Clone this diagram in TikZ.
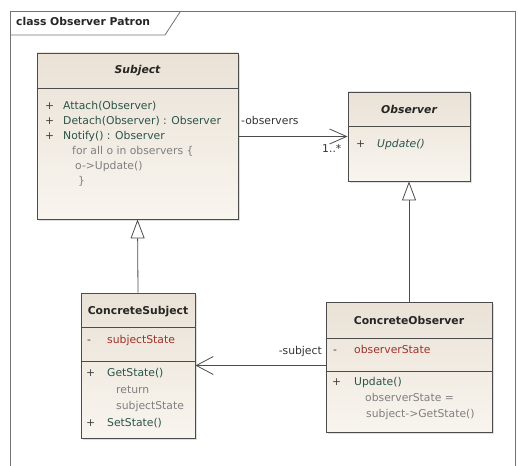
\documentclass[tikz,border=0pt]{standalone}
\usepackage{fontspec}
\setmainfont{DejaVu Sans}
\usetikzlibrary{arrows.meta,shadows}
\definecolor{gris}{rgb}{0.45,0.45,0.45}
\definecolor{cadre}{rgb}{0.3,0.3,0.3}
\definecolor{beige1}{rgb}{0.915,0.885,0.84}
\definecolor{beige2}{rgb}{0.975,0.96,0.935}
\definecolor{cmeth}{rgb}{0.17,0.33,0.29}
\definecolor{cattr}{rgb}{0.62,0.2,0.16}
\definecolor{cnote}{rgb}{0.5,0.5,0.5}

\begin{document}
\begin{tikzpicture}[x=1pt, y=-1pt, font=\fontsize{10.8}{12}\selectfont]
	\tikzstyle{classbox}=[rectangle, draw=cadre, line width=0.9pt, top color=beige1, bottom color=beige2, drop shadow={shadow xshift=2pt, shadow yshift=-2pt, opacity=0.25}, inner sep=0pt]
	\tikzstyle{divider}=[draw=cadre, line width=0.8pt]
	\tikzstyle{member}=[anchor=mid west, inner sep=0pt, text=cmeth]
	\tikzstyle{attr}=[anchor=mid west, inner sep=0pt, text=cattr]
	\tikzstyle{note}=[anchor=mid west, inner sep=0pt, text=cnote]
	\tikzstyle{vis}=[anchor=mid west, inner sep=0pt, text=black!75]
	\tikzstyle{role}=[inner sep=0pt, text=black!80]
	\tikzstyle{titre}=[inner sep=0pt, font=\fontsize{10.8}{12}\selectfont\bfseries, text=black!85]
	\useasboundingbox (0,0) rectangle (518,465);

	% CADRE
	\begin{scope}
		\clip (0,0) rectangle (518,465);
		\draw[gris, line width=1pt] (10,470) -- (10,12) -- (515,12) -- (515,470);
		\draw[gris, line width=0.8pt] (10,35) -- (165,35) -- (180,12);
	\end{scope}
	\node[titre, anchor=mid west] (titrecadre) at (16,23) {class Observer Patron};

	% CLASSES
	\node[classbox, minimum width=201pt, minimum height=166pt] (subject) at (137.5,136) {};
	\node[classbox, minimum width=122pt, minimum height=89pt] (observer) at (409,136.5) {};
	\node[classbox, minimum width=114pt, minimum height=145pt] (csubject) at (138,365.5) {};
	\node[classbox, minimum width=166pt, minimum height=130pt] (cobserver) at (409,367) {};

	\draw[divider] (subject.west |- 0,88) -- (subject.east |- 0,88);
	\draw[divider] (observer.west |- 0,126) -- (observer.east |- 0,126);
	\draw[divider] (csubject.west |- 0,327) -- (csubject.east |- 0,327);
	\draw[divider] (csubject.west |- 0,361) -- (csubject.east |- 0,361);
	\draw[divider] (cobserver.west |- 0,338) -- (cobserver.east |- 0,338);
	\draw[divider] (cobserver.west |- 0,371) -- (cobserver.east |- 0,371);

	% Subject
	\node[titre, font=\fontsize{10.8}{12}\selectfont\bfseries\itshape] (subjectT) at (137.5,71) {Subject};
	\node[vis] (sv1) at (45,107) {+};
	\node[vis] (sv2) at (45,122) {+};
	\node[vis] (sv3) at (45,137) {+};
	\node[member] (sm1) at (63,107) {Attach(Observer)};
	\node[member] (sm2) at (63,122) {Detach(Observer) : Observer};
	\node[member] (sm3) at (63,137) {Notify() : Observer};
	\node[note] (sn1) at (72,152) {for all o in observers \{};
	\node[note] (sn2) at (75,167) {o->Update()};
	\node[note] (sn3) at (78,182) {\}};

	% Observer
	\node[titre, font=\fontsize{10.8}{12}\selectfont\bfseries\itshape] (observerT) at (409,109) {Observer};
	\node[vis] (ov1) at (356,145) {+};
	\node[member, font=\fontsize{10.8}{12}\selectfont\itshape] (om1) at (377,145) {Update()};

	% ConcreteSubject
	\node[titre] (csubjectT) at (138,312) {ConcreteSubject};
	\node[vis] (csv1) at (87,341) {-};
	\node[attr] (csa1) at (107,341) {subjectState};
	\node[vis] (csv2) at (86,374) {+};
	\node[member] (csm1) at (107,374) {GetState()};
	\node[note] (csn1) at (116,391) {return};
	\node[note] (csn2) at (116,407) {subjectState};
	\node[vis] (csv3) at (86,424) {+};
	\node[member] (csm2) at (107,424) {SetState()};

	% ConcreteObserver
	\node[titre] (cobserverT) at (409,320) {ConcreteObserver};
	\node[vis] (cov1) at (333,351) {-};
	\node[attr] (coa1) at (354,351) {observerState};
	\node[vis] (cov2) at (332,383) {+};
	\node[member] (com1) at (354,383) {Update()};
	\node[note] (con1) at (365,399) {observerState =};
	\node[note] (con2) at (366,415) {subject->GetState()};

	% LIENS
	\draw[cadre, line width=0.8pt, -{Straight Barb[length=17pt, width=15pt]}] (observer.west -| subject.east) -- (observer.west);
	\draw[cadre, line width=0.8pt, -{Straight Barb[length=17pt, width=18pt]}] (cobserver.west |- csubject.east) -- (csubject.east);
	\draw[cadre, line width=0.8pt, -{Triangle[open, fill=white, length=19pt, width=14pt]}] (csubject.north) -- (subject.south);
	\draw[cadre, line width=0.8pt, -{Triangle[open, fill=white, length=19pt, width=14pt]}] (cobserver.north) -- (observer.south);

	\node[role, anchor=mid west] (observers) at (241,122) {-observers};
	\node[role, anchor=mid west] (mult) at (322,150) {1..*};
	\node[role, anchor=mid east] (subjectR) at (322,352) {-subject};
\end{tikzpicture}
\end{document}
